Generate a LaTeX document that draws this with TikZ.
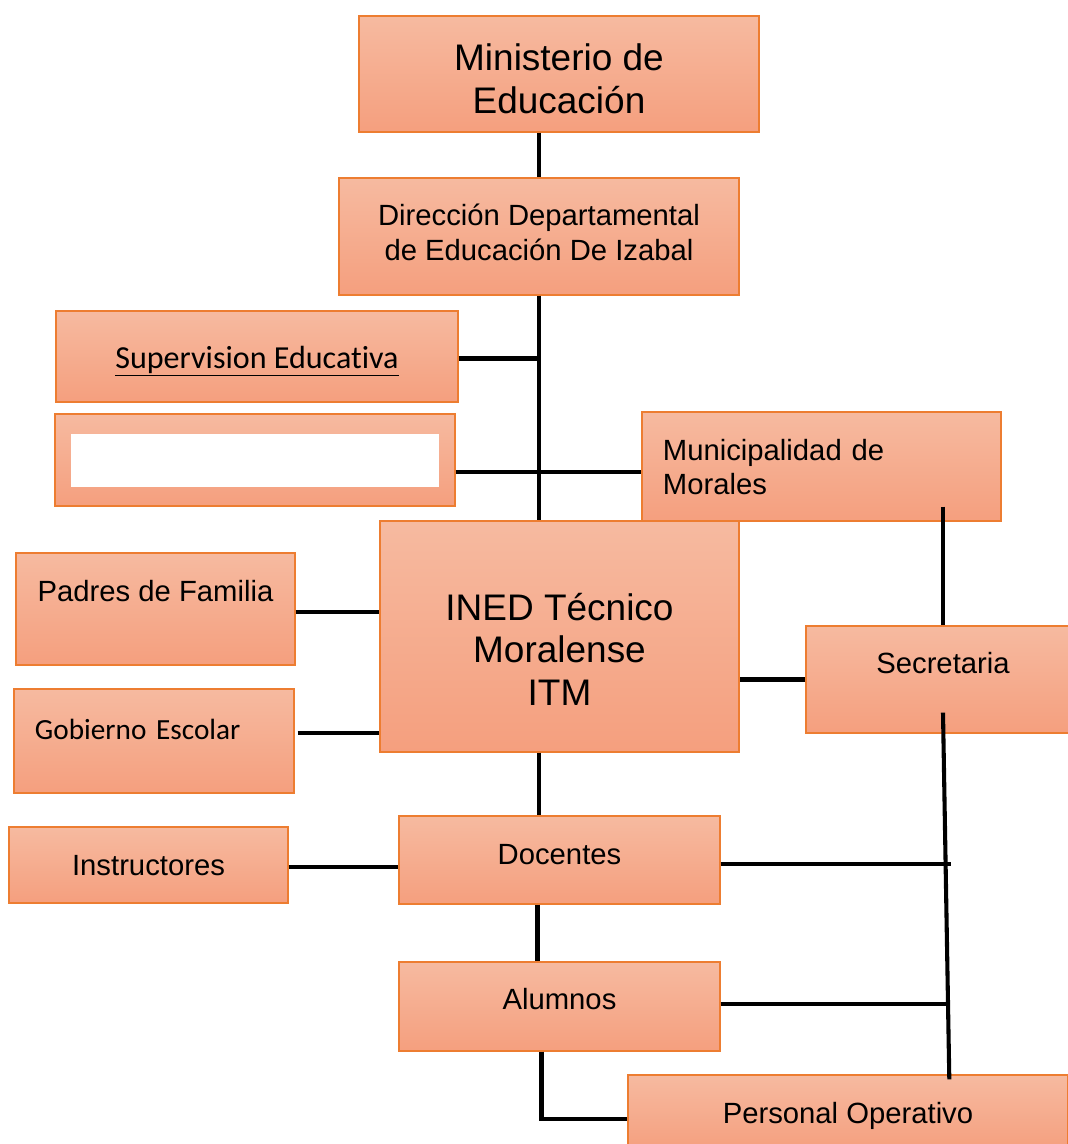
\documentclass[tikz,border=0pt]{standalone}
\usepackage{fontspec}
\setmainfont{Liberation Sans}
\newfontfamily\calibri[Ligatures=NoCommon]{Carlito}
\usetikzlibrary{calc}
\definecolor{boxtop}{RGB}{246,186,160}
\definecolor{boxbot}{RGB}{245,159,126}
\definecolor{boxline}{RGB}{237,125,49}

\begin{document}
\begin{tikzpicture}[x=0.025cm,y=-0.025cm,
    box/.style={draw=boxline,line width=0.9pt,top color=boxtop,bottom color=boxbot,inner sep=0pt},
    big/.style={font=\fontsize{26.3}{30}\selectfont},
    mid/.style={font=\fontsize{20.8}{24.2}\selectfont},
    link/.style={line width=2.9pt}]
  \useasboundingbox (0,0) rectangle (1067,1144);

  % boxes
  \node[box,big,align=center,text height=1.95cm,text depth=0cm,minimum width=10cm,minimum height=2.9cm] (min) at (559,74) {Ministerio de\\Educación};
  \node[box,mid,align=center,text height=1.175cm,text depth=0cm,minimum width=10cm,minimum height=2.925cm] (dir) at (539,236.5) {Dirección Departamental\\de Educación De Izabal};
  \node[box,font=\calibri\fontsize{22.8}{26}\selectfont,text height=0.6cm,text depth=0.025cm,minimum width=10.05cm,minimum height=2.275cm] (sup) at (257,356.5) {\underline{Supervision Educativa}};
  \node[box,minimum width=10cm,minimum height=2.3cm] (blank) at (255,460) {};
  \fill[white] (71,434) rectangle (439,487);
  \node[box,mid,align=left,text width=7.925cm,inner xsep=0.525cm,text height=0.5cm,text depth=0.825cm,minimum height=2.725cm] (mun) at (821.5,466.5) {Municipalidad de\\Morales};
  \node[box,big,align=center,text height=3.425cm,text depth=0cm,minimum width=8.975cm,minimum height=5.775cm] (ined) at (559.5,636.5) {INED Técnico\\Moralense\\ITM};
  \node[box,mid,text height=0.5cm,text depth=0.9cm,minimum width=6.975cm,minimum height=2.8cm] (pad) at (155.5,609) {Padres de Familia};
  \node[box,font=\calibri\fontsize{20.8}{24}\selectfont,align=left,text width=5.95cm,inner xsep=0.525cm,text height=0.5cm,text depth=0.6cm,minimum height=2.6cm] (gob) at (154,741) {Gobierno Escolar};
  \node[box,mid,text height=0.5cm,text depth=0cm,minimum width=6.975cm,minimum height=1.9cm] (ins) at (148.5,865) {Instructores};
  \node[box,mid,text height=0.5cm,text depth=0.3cm,minimum width=8.025cm,minimum height=2.2cm] (doc) at (559.5,860) {Docentes};
  \node[box,mid,text height=0.5cm,text depth=0.375cm,minimum width=8.025cm,minimum height=2.225cm] (alu) at (559.5,1006.5) {Alumnos};
  \node[box,mid,text height=0.5cm,text depth=0.825cm,minimum width=6.85cm,minimum height=2.675cm] (sec) at (943,679.5) {Secretaria};
  \node[box,mid,text height=0.5cm,text depth=0cm,minimum width=11cm,minimum height=1.9cm] (per) at (848,1113) {Personal Operativo};

  % lines
  \draw[link] (min.south -| dir.north) -- (dir.north);
  \draw[link] (dir.south) -- (dir.south |- ined.north);
  \draw[link] ($(sup.east)+(0,2)$) -- ($(sup.east -| dir.south)+(0,2)$);
  \draw[link] ($(blank.east)+(0,12)$) -- ($(blank.east -| mun.west)+(0,12)$);
  \draw[link] ([yshift=0.375cm]sec.north |- mun.south) -- (sec.north);
  \draw[link] (sec.west) -- (sec.west -| ined.east);
  \draw[link] ($(pad.east)+(0,3)$) -- ($(pad.east -| ined.west)+(0,3)$);
  \draw[link] ($(gob.east)+(3,-8)$) -- ($(gob.east -| ined.west)+(0,-8)$);
  \draw[link] (dir.south |- ined.south) -- (dir.south |- doc.north);
  \draw[link] ($(ins.east)+(0,2)$) -- ($(ins.east -| doc.west)+(0,2)$);
  \draw[link] ($(doc.south)+(-22,0)$) -- ($(alu.north)+(-22,0)$);
  \coordinate (stem) at ($(per.north west)+(322,5)$);
  \draw[link] ([yshift=0.525cm]sec.south) -- (stem);
  \draw[link] ($(doc.east)+(0,4)$) -- ++(230,0);
  \draw[link] ($(alu.east)+(0,-2.5)$) -- ++(228,0);
  \draw[link] ($(alu.south)+(-18,0)$) |- ($(per.west)+(0,6)$);
\end{tikzpicture}
\end{document}
